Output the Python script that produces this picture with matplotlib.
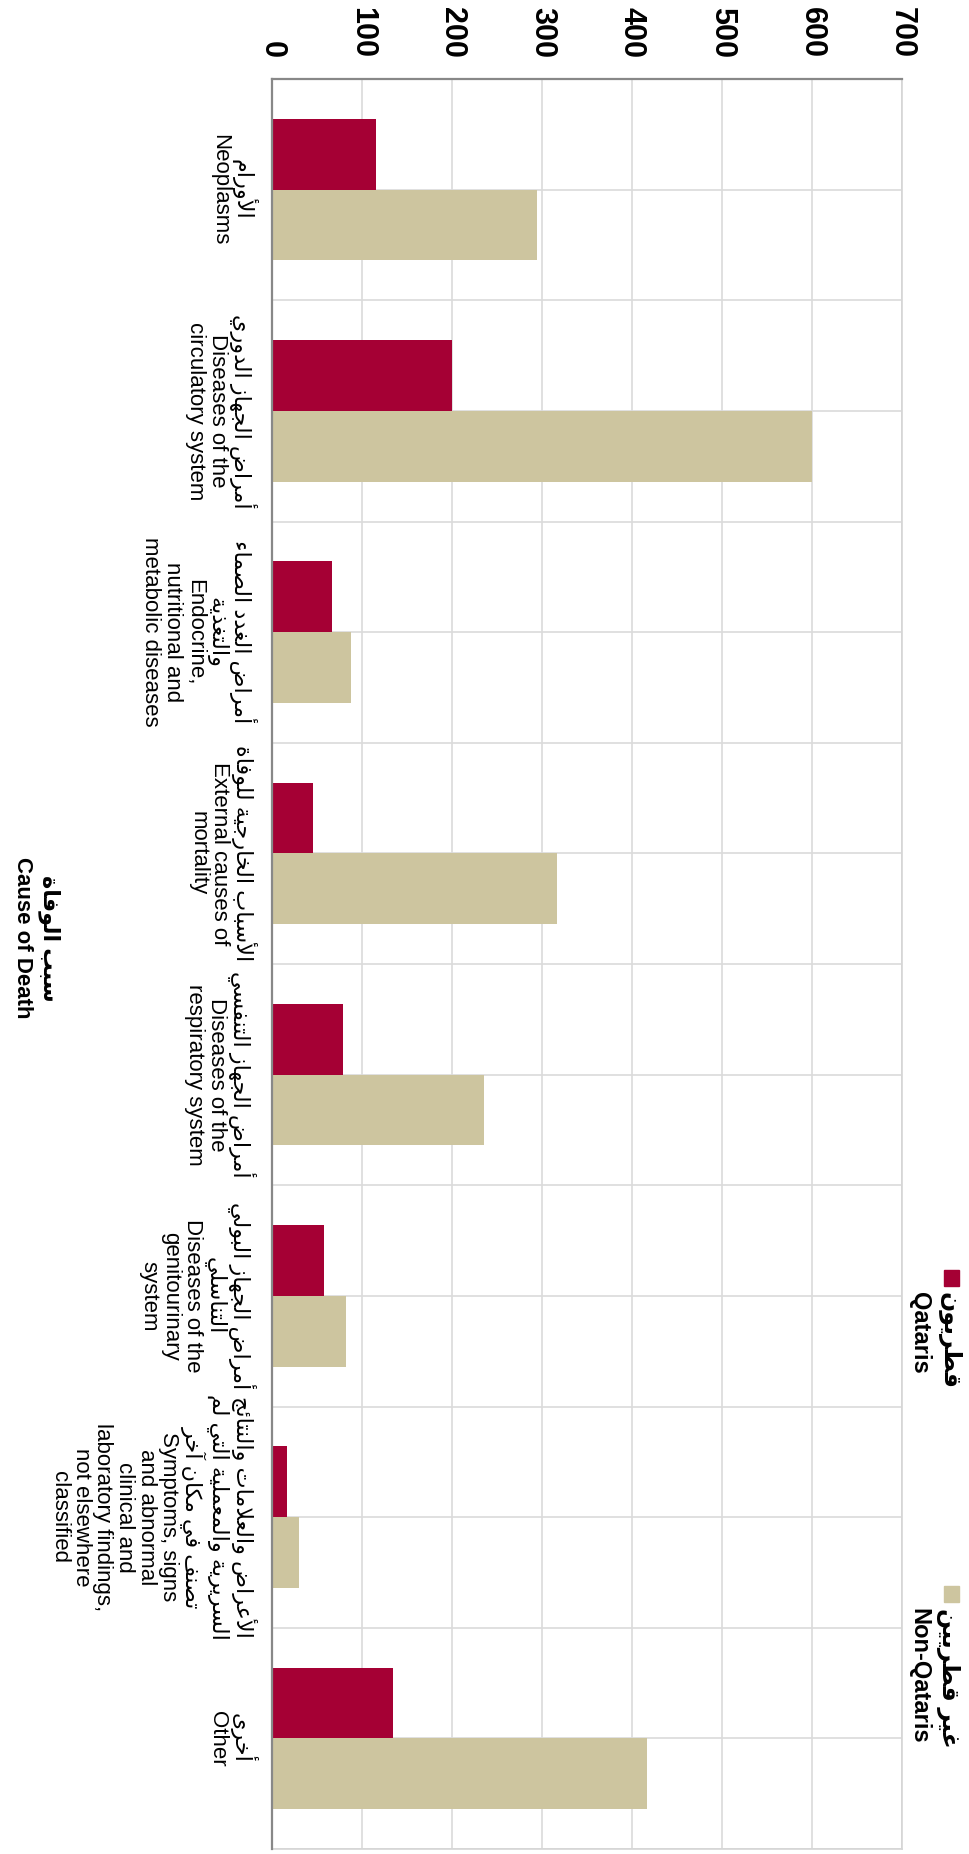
import matplotlib
matplotlib.use('Agg')
import matplotlib.pyplot as plt
from matplotlib.patches import Rectangle
import numpy as np

plt.rcParams['font.family'] = ['Liberation Sans', 'DejaVu Sans']

# data (chart is drawn turned a quarter turn clockwise)
causes_ar = ['الأورام',
             'أمراض الجهاز الدوري',
             'أمراض الغدد الصماء\nوالتغذية',
             'الأسباب الخارجية للوفاة',
             'أمراض الجهاز التنفسي',
             'أمراض الجهاز البولي\nالتناسلي',
             'الأعراض والعلامات والنتائج\nالسريرية والمعملية التي لم\nتصنف في مكان آخر',
             'أخرى']
causes_en = ['Neoplasms',
             'Diseases of the\ncirculatory system',
             'Endocrine,\nnutritional and\nmetabolic diseases',
             'External causes of\nmortality',
             'Diseases of the\nrespiratory system',
             'Diseases of the\ngenitourinary\nsystem',
             'Symptoms, signs\nand abnormal\nclinical and\nlaboratory findings,\nnot elsewhere\nclassified',
             'Other']
qataris = [116, 200, 67, 46, 79, 58, 17, 134]
non_qataris = [294, 600, 88, 317, 236, 82, 30, 417]
x_ticks = [0, 100, 200, 300, 400, 500, 600, 700]
legend_ar = ['قطريون', 'غير قطريين']
legend_en = ['Qataris', 'Non-Qataris']
axis_title_ar = 'سبب الوفاة'
axis_title_en = 'Cause of Death'
colours = ['#a50034', '#cdc59f']

# minimal arabic shaping (matplotlib has no bidi / joining)
AR_LETTERS = 'ءآأؤإئابةتثجحخدذرزسشصضطظعغفقكلمنهوىي'
AR_NFORMS = [1, 2, 2, 2, 2, 4, 2, 4, 2, 4, 4, 4, 4, 4, 2, 2, 2, 2,
             4, 4, 4, 4, 4, 4, 4, 4, 4, 4, 4, 4, 4, 4, 4, 2, 2, 4]
FORMS = {}
code = 0xFE80
for ch, n in zip(AR_LETTERS, AR_NFORMS):
    FORMS[ch] = [chr(code + i) for i in range(n)]
    code += n
LAM_ALEF = {'آ': 0xFEF5, 'أ': 0xFEF7, 'إ': 0xFEF9, 'ا': 0xFEFB}


def shape(line):
    # merge lam + alef first
    chars = []
    i = 0
    while i < len(line):
        if line[i] == 'ل' and i + 1 < len(line) and line[i + 1] in LAM_ALEF:
            chars.append(('LA', line[i + 1]))
            i += 2
        else:
            chars.append((line[i], None))
            i += 1

    def nforms(c):
        if c[0] == 'LA':
            return 2
        return len(FORMS.get(c[0], []))

    out = []
    for k, c in enumerate(chars):
        joins_prev = k > 0 and nforms(chars[k - 1]) == 4 and nforms(c) >= 2
        joins_next = k + 1 < len(chars) and nforms(c) == 4 and nforms(chars[k + 1]) >= 2
        if c[0] == 'LA':
            out.append(chr(LAM_ALEF[c[1]] + (1 if joins_prev else 0)))
        elif c[0] in FORMS:
            f = FORMS[c[0]]
            if joins_prev and joins_next:
                out.append(f[3])
            elif joins_prev:
                out.append(f[1])
            elif joins_next:
                out.append(f[2])
            else:
                out.append(f[0])
        else:
            out.append(c[0])
    return ''.join(out)[::-1]


def ar(text):
    return '\n'.join(shape(l) for l in text.split('\n'))


W, H = 970, 1854


def fx(px):
    return px / W


def fy(py):
    return 1 - py / H


fig = plt.figure(figsize=(W / 100, H / 100), dpi=100)
ax = fig.add_axes([fx(272), fy(1849), fx(902) - fx(272), fy(79) - fy(1849)])

pos = np.arange(len(causes_en))
bw = 0.32
ax.barh(pos - bw / 2, qataris, height=bw, color=colours[0], zorder=3)
ax.barh(pos + bw / 2, non_qataris, height=bw, color=colours[1], zorder=3)

ax.set_xlim(0, 700)
ax.set_ylim(len(causes_en) - 0.5, -0.5)

# grid
for xv in x_ticks:
    ax.axvline(xv, color='#dadada', lw=1.2, zorder=1)
for yv in np.arange(-0.5, len(causes_en), 0.5):
    ax.axhline(yv, color='#dadada', lw=1.2, zorder=1)

for s in ['left', 'top']:
    ax.spines[s].set_color('#888888')
    ax.spines[s].set_linewidth(1.6)
for s in ['right', 'bottom']:
    ax.spines[s].set_color('#d5d5d5')
    ax.spines[s].set_linewidth(1.2)
ax.spines['left'].set_zorder(4)

ax.xaxis.tick_top()
ax.set_xticks(x_ticks)
ax.set_xticklabels([str(v) for v in x_ticks], rotation=-90, fontsize=22, fontweight='bold')
ax.tick_params(axis='x', length=0, pad=15)

ax.set_yticks(pos)
labels = [ar(a) + '\n' + e for a, e in zip(causes_ar, causes_en)]
ax.set_yticklabels(labels, fontsize=16)
ax.tick_params(axis='y', length=0, pad=11)
for t in ax.get_yticklabels():
    t.set_rotation(-90)
    t.set_ha('right')
    t.set_va('center')
    t.set_multialignment('center')
    t.set_linespacing(1.05)

# legend, turned like the chart
legend_tops = [1292, 1608]
for colour, a, e, top in zip(colours, legend_ar, legend_en, legend_tops):
    fig.add_artist(Rectangle((fx(944), fy(top - 6)), 15 / W, 16 / H,
                             transform=fig.transFigure, color=colour))
    fig.text(fx(934), fy(top), ar(a) + '\n' + e, rotation=-90, ha='center', va='top',
             multialignment='left', fontsize=17, fontweight='bold', linespacing=1.3)

fig.text(fx(36), fy(938), ar(axis_title_ar) + '\n' + axis_title_en, rotation=-90,
         ha='center', va='center', multialignment='center', fontsize=16, fontweight='bold',
         linespacing=1.3)

fig.savefig('out.png', dpi=100, facecolor='white')
plt.close()
